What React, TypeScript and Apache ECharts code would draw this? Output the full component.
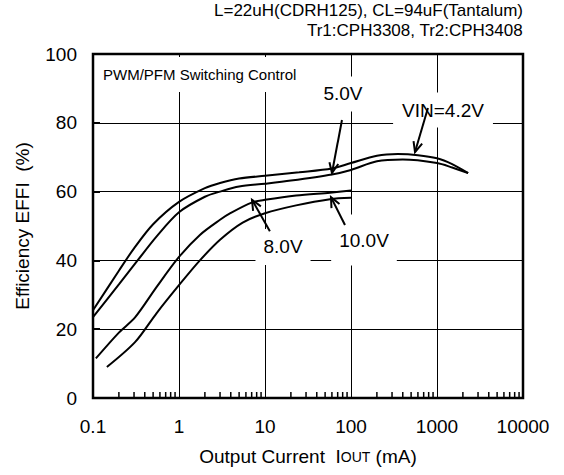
import React, { useEffect, useRef } from 'react';
import * as echarts from 'echarts';

const FONT = '"Liberation Sans", Arial, Helvetica, sans-serif';

// Efficiency curves: [Iout (mA), efficiency (%)]
const vin42: [number, number][] = [
  [0.1, 25.5], [0.2, 37], [0.3, 43.5], [0.5, 50.5], [1, 57], [2, 61], [3, 62.5],
  [5, 63.8], [10, 64.6], [25, 65.6], [60, 66.7], [100, 68.3], [200, 70.4],
  [350, 70.9], [600, 70.6], [1000, 69.7], [1500, 68], [2300, 65.4],
];
const vin50: [number, number][] = [
  [0.1, 23.5], [0.2, 33], [0.33, 40], [0.55, 47], [1, 54], [2, 58.5], [3, 60],
  [5, 61.5], [10, 62.3], [20, 63.2], [60, 65], [100, 66.3], [200, 68.8],
  [400, 69.3], [1000, 68.3], [1500, 67], [2300, 65.4],
];
const vin80: [number, number][] = [
  [0.108, 11.5], [0.2, 19], [0.31, 23.5], [0.55, 32.3], [1, 41], [1.75, 47.4],
  [3, 51.8], [4, 53.8], [7, 56.8], [10, 57.6], [23, 58.9], [57, 59.7], [100, 60.3],
];
const vin100: [number, number][] = [
  [0.145, 9], [0.31, 16.3], [0.55, 24.7], [1, 32.8], [1.75, 40], [3, 46],
  [5.5, 51], [10, 53.7], [23, 56], [57, 57.8], [100, 58.2],
];

const xTickLabels = ['0.1', '1', '10', '100', '1000', '10000'];
const yTickLabels = ['0', '20', '40', '60', '80', '100'];
const minorTicks = [
  0.2, 0.3, 0.4, 0.5, 0.6, 0.7, 0.8, 0.9,
  2, 3, 4, 5, 6, 7, 8, 9,
  20, 30, 40, 50, 60, 70, 80, 90,
  200, 300, 400, 500, 600, 700, 800, 900,
  2000, 3000, 4000, 5000, 6000, 7000, 8000, 9000,
];

// annotations: label, text centre, arrow tail, arrow head (data coords)
const annotationLabels = ['5.0V', 'VIN=4.2V', '8.0V', '10.0V'];
const annotationText: [number, number][] = [[80.7, 88.4], [1175, 83.7], [16.2, 43.9], [141.6, 45.9]];
const annotationTail: [number, number][] = [[78.5, 80.8], [785, 84.3], [11.4, 48.5], [85.1, 50.3]];
const annotationHead: [number, number][] = [[60.1, 65.4], [555, 71.5], [7.06, 57.6], [58.5, 58.4]];
const annotationPad = [[8, 8, 8, 8], [8, 9, 8, 9], [9, 8, 8, 8], [24, 8, 8, 8]];

const headerLines = ['L=22uH(CDRH125), CL=94uF(Tantalum)', 'Tr1:CPH3308, Tr2:CPH3408'];
const modeLabel = 'PWM/PFM Switching Control';

export default function App() {
  const ref = useRef<HTMLDivElement>(null);
  useEffect(() => {
    if (!ref.current) return;
    const chart = echarts.init(ref.current, undefined, { renderer: 'svg' });
    const curve = (name: string, data: [number, number][]) => ({
      name,
      type: 'line',
      data,
      smooth: 0.3,
      showSymbol: false,
      symbol: 'none',
      lineStyle: { color: '#000', width: 2 },
      z: 3,
    });
    chart.setOption({
      animation: false,
      textStyle: { fontFamily: FONT },
      grid: {
        left: 93, right: 41, top: 54, bottom: 77,
        show: true, borderColor: '#000', borderWidth: 2.5, backgroundColor: '#fff',
      },
      xAxis: {
        type: 'log',
        logBase: 10,
        min: 0.1,
        max: 10000,
        name: 'Output Current  I{s|OUT} (mA)',
        nameLocation: 'middle',
        nameGap: 49,
        nameTextStyle: {
          color: '#000', fontSize: 19, fontFamily: FONT,
          rich: { s: { fontSize: 14, fontFamily: FONT, color: '#000' } },
        },
        axisLine: { show: false },
        axisTick: { show: false },
        axisLabel: {
          color: '#000', fontSize: 19, fontFamily: FONT, margin: 19,
          formatter: (v: number) => xTickLabels[Math.round(Math.log10(v)) + 1] ?? '',
        },
        splitLine: { show: true, lineStyle: { color: '#000', width: 1 } },
      },
      yAxis: {
        type: 'value',
        min: 0,
        max: 100,
        interval: 20,
        name: 'Efficiency EFFI  (%)',
        nameLocation: 'middle',
        nameGap: 61,
        nameTextStyle: { color: '#000', fontSize: 19, fontFamily: FONT },
        axisLine: { show: false },
        axisTick: { show: true, inside: true, length: 7, lineStyle: { color: '#000', width: 2 } },
        axisLabel: {
          color: '#000', fontSize: 19, fontFamily: FONT, margin: 16,
          formatter: (v: number) => yTickLabels[Math.round(v / 20)] ?? '',
        },
        splitLine: { show: true, lineStyle: { color: '#000', width: 1 } },
      },
      graphic: [
        {
          type: 'text',
          right: 41,
          top: 2,
          z: 100,
          style: { text: headerLines[0], fontSize: 17, fontFamily: FONT, fill: '#000' },
        },
        {
          type: 'text',
          right: 41,
          top: 22,
          z: 100,
          style: { text: headerLines[1], fontSize: 17, fontFamily: FONT, fill: '#000' },
        },
        {
          type: 'text',
          left: 96,
          top: 57,
          z: 100,
          style: {
            text: modeLabel,
            fontSize: 15,
            fontFamily: FONT,
            fill: '#000',
            backgroundColor: '#fff',
            padding: [10, 7, 10, 7],
          },
        },
      ],
      series: [
        curve('VIN=4.2V', vin42),
        curve('5.0V', vin50),
        curve('8.0V', vin80),
        curve('10.0V', vin100),
        {
          type: 'custom',
          name: 'minor ticks',
          coordinateSystem: 'cartesian2d',
          data: minorTicks.map((v) => [v, 0]),
          clip: false,
          silent: true,
          z: 6,
          renderItem: (_p: any, api: any) => {
            const p = api.coord([api.value(0), api.value(1)]);
            return {
              type: 'line',
              shape: { x1: p[0], y1: p[1], x2: p[0], y2: p[1] - 6 },
              style: { stroke: '#000', lineWidth: 1.5 },
            };
          },
        },
        {
          type: 'custom',
          name: 'annotations',
          coordinateSystem: 'cartesian2d',
          data: annotationLabels.map((_, i) => [
            annotationText[i][0], annotationText[i][1],
            annotationTail[i][0], annotationTail[i][1],
            annotationHead[i][0], annotationHead[i][1],
          ]),
          encode: { x: [0, 2, 4], y: [1, 3, 5] },
          clip: false,
          silent: true,
          z: 5,
          renderItem: (params: any, api: any) => {
            const i = params.dataIndex;
            const t = api.coord([api.value(0), api.value(1)]);
            const a = api.coord([api.value(2), api.value(3)]);
            const h = api.coord([api.value(4), api.value(5)]);
            const ang = Math.atan2(h[1] - a[1], h[0] - a[0]);
            const L = 11;
            const sp = 0.42;
            const p1 = [h[0] - L * Math.cos(ang - sp), h[1] - L * Math.sin(ang - sp)];
            const p2 = [h[0] - L * Math.cos(ang + sp), h[1] - L * Math.sin(ang + sp)];
            return {
              type: 'group',
              children: [
                {
                  type: 'text',
                  x: t[0],
                  y: t[1],
                  style: {
                    text: annotationLabels[i],
                    fontSize: 19,
                    fontFamily: FONT,
                    lineHeight: 19,
                    fill: '#000',
                    align: 'center',
                    verticalAlign: 'middle',
                    backgroundColor: '#fff',
                    padding: annotationPad[i],
                  },
                },
                {
                  type: 'line',
                  shape: { x1: a[0], y1: a[1], x2: h[0], y2: h[1] },
                  style: { stroke: '#000', lineWidth: 2 },
                },
                {
                  type: 'polyline',
                  shape: { points: [p1, h, p2] },
                  style: { stroke: '#000', lineWidth: 2, fill: null },
                },
              ],
            };
          },
        },
      ],
    });
    return () => chart.dispose();
  }, []);
  return (
    <div
      ref={ref}
      style={{ position: 'fixed', left: 0, top: 0, width: 564, height: 475, background: '#fff' }}
    />
  );
}
